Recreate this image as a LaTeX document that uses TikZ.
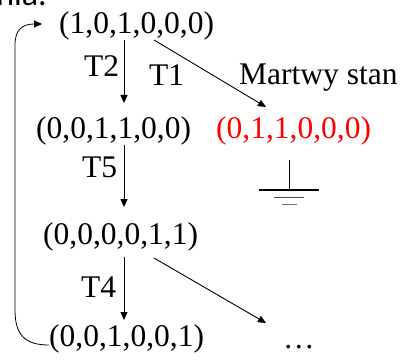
\documentclass[tikz,border=0pt]{standalone}
\usepackage{fontspec}
\setmainfont{Liberation Serif}
\newfontfamily\capfont{Carlito}
\usetikzlibrary{arrows.meta}
\begin{document}
\begin{tikzpicture}[x=1pt,y=-1pt,
  st/.style={inner sep=0pt,anchor=base west,font=\fontsize{31.5}{34}\selectfont},
  arr/.style={line width=0.9pt,-{Triangle[length=8pt,width=7pt]}},
  gnd/.style={line width=#1}]
\useasboundingbox (0,0) rectangle (403,363);
\clip (0,0) rectangle (403,363);
\node[st,font=\capfont\fontsize{34}{36}\selectfont,anchor=base east] (top) at (47,6) {nia.};
\node[st] (A) at (59,34) {(1,0,1,0,0,0)};
\node[st] (B) at (36,139) {(0,0,1,1,0,0)};
\node[st,text={rgb,255:red,255;green,0;blue,0}] (R) at (216,139) {(0,1,1,0,0,0)};
\node[st] (C) at (43,244) {(0,0,0,0,1,1)};
\node[st] (D) at (49,346) {(0,0,1,0,0,1)};
\node[st] (M) at (239,85) {Martwy stan};
\node[st] (T2) at (84,77) {T2};
\node[st] (T1) at (149,86) {T1};
\node[st] (T5) at (82,177) {T5};
\node[st] (T4) at (81,297) {T4};
\node[st] (dots) at (283,348) {…};
% arrows
\coordinate (a1) at (124,40); \coordinate (b1) at (124,103);
\coordinate (a2) at (154,40); \coordinate (r1) at (266,107);
\coordinate (b2) at (124,145); \coordinate (c1) at (124,207);
\coordinate (c2) at (124,257); \coordinate (d1) at (124,320);
\coordinate (c3) at (154,258); \coordinate (e1) at (266,323);
\draw[arr] (a1) -- (b1);
\draw[arr] (a2) -- (r1);
\draw[arr] (b2) -- (c1);
\draw[arr] (c2) -- (d1);
\draw[arr] (c3) -- (e1);
% loop back
\coordinate (lp) at (42,24);
\draw[arr,line width=0.8pt] (D.west |- 0,345) .. controls (25,345) and (15,335) .. (15,310) -- (15,45) .. controls (15,30) and (22,24) .. (lp);
% ground
\coordinate (g0) at (289,160);
\coordinate (g1) at (289,190);
\draw[line width=0.8pt] (g0) -- (g1);
\draw[line width=2.5pt] (259,190) -- (319,190);
\draw[line width=1pt,black!70] (274,197) -- (304,197);
\draw[line width=1pt,black!55] (282,204) -- (297,204);
\end{tikzpicture}
\end{document}
